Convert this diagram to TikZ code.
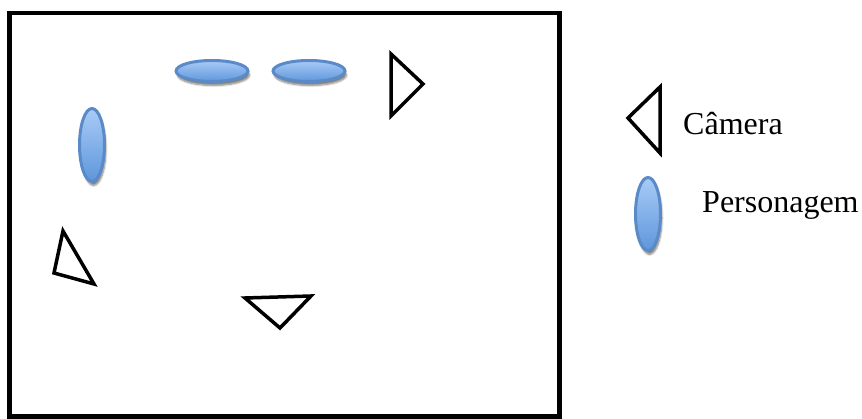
\documentclass[tikz,border=0pt]{standalone}
\usepackage{fontspec}
\setmainfont{Liberation Serif}
\usetikzlibrary{shapes.geometric,shadows.blur}

\definecolor{perstopo}{HTML}{A9CBF7}
\definecolor{persbase}{HTML}{5E97DB}
\definecolor{persborda}{HTML}{5A8BC8}

\begin{document}
\begin{tikzpicture}[x=1pt, y=-1pt,
		personagem/.style={ellipse, draw=persborda, line width=3pt, top color=perstopo, bottom color=persbase, inner sep=0pt,
			blur shadow={shadow xshift=1.5pt, shadow yshift=-4pt, shadow blur steps=6, shadow opacity=50}},
		deitado/.style={personagem, minimum width=72pt, minimum height=21pt},
		empe/.style={personagem, minimum width=25pt, minimum height=73pt},
		camera/.style={draw=black, line width=3.5pt, line join=miter, fill=white},
		legenda/.style={anchor=base west, inner sep=0pt, font=\fontsize{32}{38}\selectfont}]

		\useasboundingbox (0,0) rectangle (862,419);

		% cenario
		\draw [line width=4.5pt] (9.5,13) rectangle (559.5,416.5);

		% personagens
		\node [deitado] (pers1) at (212,71) {};
		\node [deitado] (pers2) at (309,71) {};
		\node [empe] (pers3) at (92,145) {};

		% cameras
		\draw [camera] (391,54) -- (391,116) -- (423,84) -- cycle;
		\draw [camera] (63,231) -- (54,273) -- (94,284) -- cycle;
		\draw [camera] (245,298) -- (311,296) -- (280,328) -- cycle;

		% legenda
		\draw [camera] (660,87) -- (660,153) -- (628,118) -- cycle;
		\node [legenda] (cam) at (683,135) {Câmera};
		\node [empe] (perslegenda) at (648,214) {};
		\node [legenda] (pers) at (702,213) {Personagem};

	\end{tikzpicture}
\end{document}
